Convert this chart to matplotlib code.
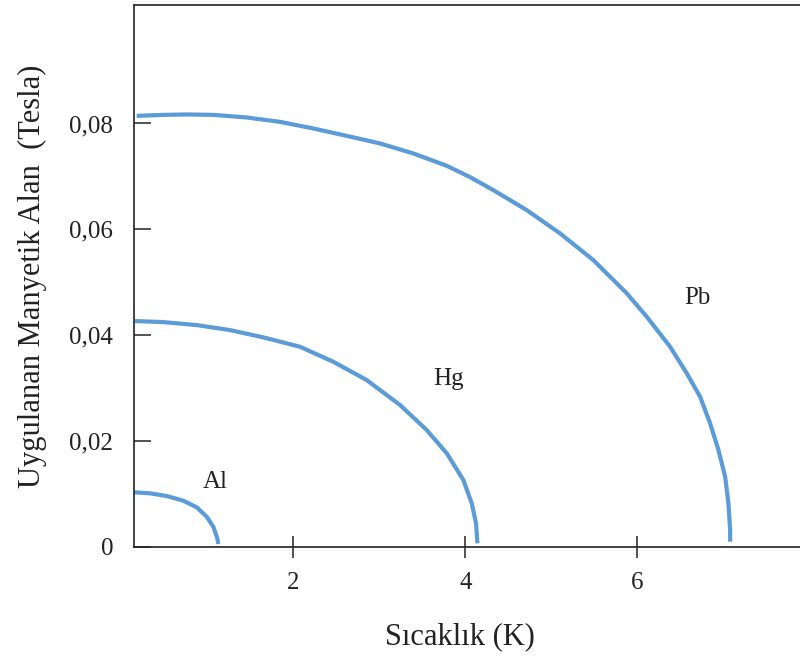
import matplotlib
matplotlib.use("Agg")
import matplotlib.pyplot as plt

# Data (temperature K, critical field T)
pb_T = [0.179, 0.488, 0.760, 1.070, 1.458, 1.845, 2.233, 2.621, 3.008, 3.395, 3.784, 4.055, 4.326,
        4.714, 5.101, 5.488, 5.877, 6.109, 6.380, 6.574, 6.729, 6.845, 6.942, 7.020, 7.058, 7.078, 7.078]
pb_B = [0.08144, 0.08163, 0.08171, 0.08163, 0.08114, 0.08031, 0.07906, 0.07766, 0.07623, 0.07434, 0.07200,
        0.06986, 0.06740, 0.06362, 0.05922, 0.05417, 0.04788, 0.04346, 0.03779, 0.03277, 0.02834, 0.02332,
        0.01827, 0.01323, 0.00820, 0.00316, 0.00094]

hg_T = [0.159, 0.488, 0.877, 1.264, 1.651, 2.078, 2.465, 2.853, 3.241, 3.551, 3.784, 3.977, 4.074, 4.124, 4.140]
hg_B = [0.04265, 0.04246, 0.04189, 0.04095, 0.03957, 0.03779, 0.03496, 0.03150, 0.02678, 0.02205, 0.01765,
        0.01260, 0.00820, 0.00442, 0.00064]

al_T = [0.150, 0.334, 0.528, 0.721, 0.877, 0.993, 1.070, 1.116, 1.128]
al_B = [0.01028, 0.01009, 0.00958, 0.00869, 0.00745, 0.00567, 0.00378, 0.00159, 0.00051]

x_ticks = [2, 4, 6]
x_tick_labels = ["2", "4", "6"]
y_ticks = [0, 0.02, 0.04, 0.06, 0.08]
y_tick_labels = ["0", "0,02", "0,04", "0,06", "0,08"]

series_names = ["Al", "Hg", "Pb"]
label_pos_T = [1.09, 3.80, 6.695]
label_pos_B = [0.01223, 0.0317, 0.0470]

plt.rcParams['font.family'] = ['Liberation Serif', 'DejaVu Serif']

fig = plt.figure(figsize=(8, 6.63), dpi=100)
ax = fig.add_axes([134/800, 1 - 546.7/663, 1 - 134/800, (546.7 - 5)/663])

color = '#5b9bd8'
for T, B in [(al_T, al_B), (hg_T, hg_B), (pb_T, pb_B)]:
    ax.plot(T, B, color=color, lw=3, solid_capstyle='butt', solid_joinstyle='round')

for name, t, b in zip(series_names, label_pos_T, label_pos_B):
    ax.text(t, b, name, fontsize=18, ha='center', va='center', color='#222222')

ax.set_xlim(0.148, 7.89)
ax.set_ylim(0, 0.1024)

ax.set_xticks(x_ticks)
ax.set_xticklabels(x_tick_labels)
ax.set_yticks(y_ticks)
ax.set_yticklabels(y_tick_labels)

ax.tick_params(axis='x', direction='inout', length=16, width=1.1, pad=10, labelsize=18, colors='#222222')
ax.tick_params(axis='y', direction='in', length=12, width=1.1, pad=15, labelsize=18, colors='#222222')

for s in ['left', 'bottom', 'top']:
    ax.spines[s].set_linewidth(1.2)
    ax.spines[s].set_color('#222222')
ax.spines['right'].set_visible(False)

ax.set_xlabel("Sıcaklık (K)", fontsize=22, color='#222222')
ax.set_ylabel("Uygulanan Manyetik Alan  (Tesla)", fontsize=22, color='#222222')
ax.xaxis.set_label_coords(0.4895, -0.139)
ax.yaxis.set_label_coords(-0.131, 0.5)

fig.savefig("out.png", dpi=100)
